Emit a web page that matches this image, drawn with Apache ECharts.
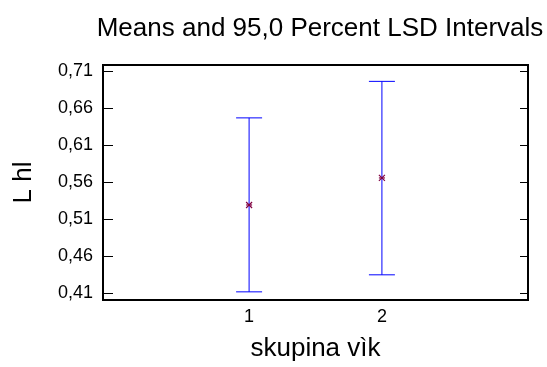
<!DOCTYPE html>
<html>
<head>
<meta charset="utf-8">
<title>Means and 95,0 Percent LSD Intervals</title>
<script src="https://cdn.jsdelivr.net/npm/echarts@6/dist/echarts.min.js"></script>
<style>
    html, body { margin: 0; padding: 0; background: #fff; }
    #chart { width: 547px; height: 367px; }
</style>
</head>
<body>
<div id="chart"></div>
<script>
// groups (x positions on the axis) and their labels
var groups = [1, 2];
var groupLabels = ["1", "2"];
// means and LSD interval limits
var means = [0.529, 0.5655];
var lower = [0.4117, 0.4347];
var upper = [0.6466, 0.6959];
// y tick values
var yTicks = [0.41, 0.46, 0.51, 0.56, 0.61, 0.66, 0.71];

var FONT = "Liberation Sans, Arial, sans-serif";

function fmtComma(v) {
    return v.toFixed(2).replace(".", ",");
}

var rows = [];
for (var i = 0; i < groups.length; ++i) {
    rows.push([groups[i], lower[i], upper[i], means[i]]);
}

function renderBar(params, api) {
    var x = api.value(0);
    var top = api.coord([x, api.value(2)]);
    var bot = api.coord([x, api.value(1)]);
    var mid = api.coord([x, api.value(3)]);
    var cap = 13;
    var s = 3;
    var barStyle = { stroke: "#0000ff", lineWidth: 1 };
    var starStyle = { stroke: "#800040", lineWidth: 1.2 };
    return {
        type: "group",
        children: [
            { type: "line", shape: { x1: top[0], y1: top[1], x2: bot[0], y2: bot[1] }, style: barStyle },
            { type: "line", shape: { x1: top[0] - cap, y1: top[1], x2: top[0] + cap, y2: top[1] }, style: barStyle },
            { type: "line", shape: { x1: bot[0] - cap, y1: bot[1], x2: bot[0] + cap, y2: bot[1] }, style: barStyle },
            { type: "line", shape: { x1: mid[0] - s, y1: mid[1] - s, x2: mid[0] + s, y2: mid[1] + s }, style: starStyle },
            { type: "line", shape: { x1: mid[0] - s, y1: mid[1] + s, x2: mid[0] + s, y2: mid[1] - s }, style: starStyle },
            { type: "line", shape: { x1: mid[0] - s, y1: mid[1], x2: mid[0] + s, y2: mid[1] }, style: starStyle }
        ]
    };
}

var yMin = 0.4007, yMax = 0.718;

var option = {
    animation: false,
    backgroundColor: "#fff",
    textStyle: { fontFamily: FONT, color: "#000" },
    title: {
        text: "Means and 95,0 Percent LSD Intervals",
        left: 315,
        top: 11,
        textAlign: "center",
        textStyle: { fontFamily: FONT, fontSize: 26, fontWeight: "normal", color: "#000" }
    },
    grid: {
        left: 103, right: 19, top: 65, bottom: 63,
        show: true, borderColor: "#000", borderWidth: 2
    },
    xAxis: {
        type: "value",
        min: -0.1, max: 3.1,
        name: "skupina vìk",
        nameLocation: "middle",
        nameGap: 36,
        nameTextStyle: { fontFamily: FONT, fontSize: 26, color: "#000" },
        axisLine: { show: false, onZero: false },
        axisTick: { show: false },
        splitLine: { show: false },
        axisLabel: {
            customValues: groups,
            margin: 8,
            fontFamily: FONT, fontSize: 18, color: "#000",
            formatter: function (v) {
                var k = groups.indexOf(v);
                return k >= 0 ? groupLabels[k] : "";
            }
        }
    },
    yAxis: [
        {
            type: "value",
            min: yMin, max: yMax,
            name: "L hl",
            nameLocation: "middle",
            nameGap: 66,
            nameTextStyle: { fontFamily: FONT, fontSize: 26, color: "#000" },
            axisLine: { show: false, onZero: false },
            axisTick: { show: true, inside: true, length: 10, customValues: yTicks, lineStyle: { color: "#000" } },
            splitLine: { show: false },
            axisLabel: {
                customValues: yTicks,
                margin: 10,
                fontFamily: FONT, fontSize: 18, color: "#000",
                formatter: fmtComma
            }
        },
        {
            type: "value",
            position: "right",
            min: yMin, max: yMax,
            axisLine: { show: false, onZero: false },
            axisTick: { show: true, inside: true, length: 8, customValues: yTicks, lineStyle: { color: "#000" } },
            splitLine: { show: false },
            axisLabel: { show: false }
        }
    ],
    series: [
        {
            type: "custom",
            renderItem: renderBar,
            encode: { x: 0, y: [1, 2, 3] },
            data: rows
        }
    ]
};

echarts.init(document.getElementById("chart")).setOption(option);
</script>
</body>
</html>
